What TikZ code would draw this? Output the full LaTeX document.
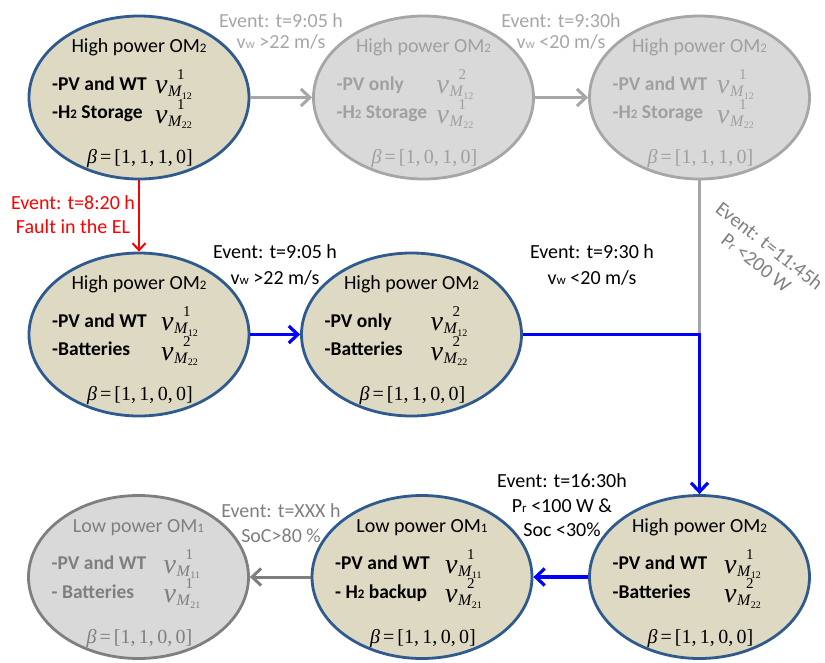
\documentclass[tikz,border=0pt]{standalone}
\usepackage{fontspec}
\setmainfont{Carlito}
\newfontfamily\tms{Liberation Serif}
\usetikzlibrary{arrows.meta,calc,shapes.geometric}
\definecolor{tanfill}{HTML}{DDD9C3}
\definecolor{navy}{HTML}{2F5A8F}
\definecolor{gfill}{HTML}{D9D9D9}
\definecolor{gline}{HTML}{A6A6A6}
\definecolor{gtext}{HTML}{A0A0A0}
\definecolor{dline}{HTML}{7F7F7F}
\definecolor{dtext}{HTML}{7F7F7F}
\definecolor{pureblue}{HTML}{0000FF}
\definecolor{purered}{HTML}{FF0000}
\newcommand\smallsub[1]{{\fontsize{13}{13}\selectfont #1}}
% nu with superscript #1 and subscript M_{#2}, Times-like
\newcommand\nuterm[2]{{\tms\fontsize{28}{28}\selectfont\itshape ν}\kern0.5pt%
  \rlap{\hspace{9pt}\raisebox{14pt}{\tms\fontsize{15}{15}\selectfont #1}}%
  \raisebox{-3pt}{\tms\fontsize{16}{16}\selectfont\itshape M\kern0.5pt\raisebox{-2.5pt}{\fontsize{10}{10}\selectfont\upshape #2}}}
\newcommand\betaterm[1]{{\tms\itshape β}\kern3pt{\tms =\kern3pt[#1]}}
\tikzset{
  omtan/.style={ellipse, draw=navy, fill=tanfill, line width=2.8pt,
    minimum width=220pt, minimum height=163pt, inner sep=0pt},
  omgrey/.style={omtan, draw=gline, fill=gfill},
  omdark/.style={omtan, draw=dline, fill=gfill},
  titletxt/.style={anchor=base, font=\fontsize{20}{24}\selectfont, inner sep=0pt},
  itemtxt/.style={anchor=base west, font=\bfseries\fontsize{19.5}{24}\selectfont, inner sep=0pt},
  nutxt/.style={anchor=base west, inner sep=0pt},
  betatxt/.style={anchor=base, font=\fontsize{20}{24}\selectfont, inner sep=0pt},
  evlabel/.style={align=center, font=\fontsize{20}{24}\selectfont, inner sep=0pt},
  conn/.style={line width=3pt, -{Straight Barb[length=9pt,width=17pt]}},
}
% #1 name, #2 colour, #3 title, #4 item1, #5 nu1, #6 item2, #7 nu2, #8 beta, #9 nu x offset
\newcommand\omtext[9]{%
  \node[titletxt, text=#2] (#1-title) at ($(#1)+(0,-45)$) {#3};
  \node[itemtxt, text=#2] (#1-a) at ($(#1)+(-87,-7.5)$) {#4};
  \node[nutxt, text=#2] (#1-nua) at ($(#1)+(#9,-4)$) {#5};
  \node[itemtxt, text=#2] (#1-b) at ($(#1)+(-87,21)$) {#6};
  \node[nutxt, text=#2] (#1-nub) at ($(#1)+(#9,25.5)$) {#7};
  \node[betatxt, text=#2] (#1-beta) at ($(#1)+(1,66)$) {\betaterm{#8}};
}
\begin{document}
\begin{tikzpicture}[x=1pt,y=-1pt]
\useasboundingbox (0,0) rectangle (825,662);

% states
\node[omtan]  (e1) at (139,97.5) {};
\node[omgrey] (e2) at (423.5,97.5) {};
\node[omgrey] (e3) at (699.5,97.5) {};
\node[omtan]  (e4) at (139,334.5) {};
\node[omtan]  (e5) at (411.5,334.5) {};
\node[omdark] (e7) at (138.5,577) {};
\node[omtan]  (e8) at (422,577) {};
\node[omtan]  (e9) at (699.5,577) {};

\omtext{e1}{black}{High power OM\smallsub{2}}{-PV and WT}{\nuterm{1}{12}}{-H\smallsub{2} Storage}{\nuterm{1}{22}}{1,\,1,\,1,\,0}{16}
\omtext{e2}{gtext}{High power OM\smallsub{2}}{-PV only}{\nuterm{2}{12}}{-H\smallsub{2} Storage}{\nuterm{1}{22}}{1,\,0,\,1,\,0}{13}
\omtext{e3}{gtext}{High power OM\smallsub{2}}{-PV and WT}{\nuterm{1}{12}}{-H\smallsub{2} Storage}{\nuterm{1}{22}}{1,\,1,\,1,\,0}{17.5}
\omtext{e4}{black}{High power OM\smallsub{2}}{-PV and WT}{\nuterm{1}{12}}{-Batteries}{\nuterm{2}{22}}{1,\,1,\,0,\,0}{22}
\omtext{e5}{black}{High power OM\smallsub{2}}{-PV only}{\nuterm{2}{12}}{-Batteries}{\nuterm{2}{22}}{1,\,1,\,0,\,0}{19}
\omtext{e7}{dtext}{Low power OM\smallsub{1}}{-PV and WT}{\nuterm{1}{11}}{- Batteries}{\nuterm{1}{21}}{1,\,1,\,0,\,0}{25}
\omtext{e8}{black}{Low power OM\smallsub{1}}{-PV and WT}{\nuterm{1}{11}}{- H\smallsub{2} backup}{\nuterm{2}{21}}{1,\,1,\,0,\,0}{23}
\omtext{e9}{black}{High power OM\smallsub{2}}{-PV and WT}{\nuterm{1}{12}}{-Batteries}{\nuterm{2}{22}}{1,\,1,\,0,\,0}{24.5}

% connectors
\coordinate (bc) at (e5.east -| e9.north);
\draw[conn, gline] (e1.east) -- (e2.west);
\draw[conn, gline] (e2.east) -- (e3.west);
\draw[gline, line width=3pt] (e3.south) -- (bc);
\draw[purered, line width=2pt, -{Straight Barb[length=7pt,width=13pt]}] (e1.south) -- (e1.south |- e4.north);
\draw[conn, pureblue, line width=3.2pt] (e4.east) -- (e5.west);
\draw[conn, pureblue, line width=3.2pt] (e5.east) -- (bc) -- (e9.north);
\draw[conn, pureblue, line width=3.2pt] (e9.west) -- (e8.east);
\draw[conn, dline] (e8.west) -- (e7.east);

% event labels
\node[evlabel, text=gline, font=\fontsize{20}{21}\selectfont] (l1) at (281,31.5) {Event: t=9:05 h\\v\smallsub{w} >22 m/s};
\node[evlabel, text=gline, font=\fontsize{20}{21}\selectfont] (l2) at (561,31.5) {Event: t=9:30h\\v\smallsub{w} <20 m/s};
\node[evlabel, text=black, font=\fontsize{20}{26}\selectfont] (l3) at (275,265) {Event: t=9:05 h\\v\smallsub{w} >22 m/s};
\node[evlabel, text=black, font=\fontsize{20}{26}\selectfont] (l4) at (592,265) {Event: t=9:30 h\\v\smallsub{w} <20 m/s};
\node[evlabel, text=purered] (l5) at (73,215) {Event: t=8:20 h\\Fault in the EL};
\node[evlabel, text=dtext, font=\fontsize{20}{21.5}\selectfont, rotate=-38] (l6) at (763,254) {Event: t=11:45h\\P\smallsub{r} <200 W};
\node[evlabel, text=dtext, font=\fontsize{20}{25}\selectfont] (l7) at (281,523.5) {Event: t=XXX h\\SoC>80 \%};
\node[evlabel, text=black, font=\fontsize{20}{24.5}\selectfont] (l8) at (562,505.5) {Event: t=16:30h\\P\smallsub{r} <100 W \&\\Soc <30\%};
\end{tikzpicture}
\end{document}
